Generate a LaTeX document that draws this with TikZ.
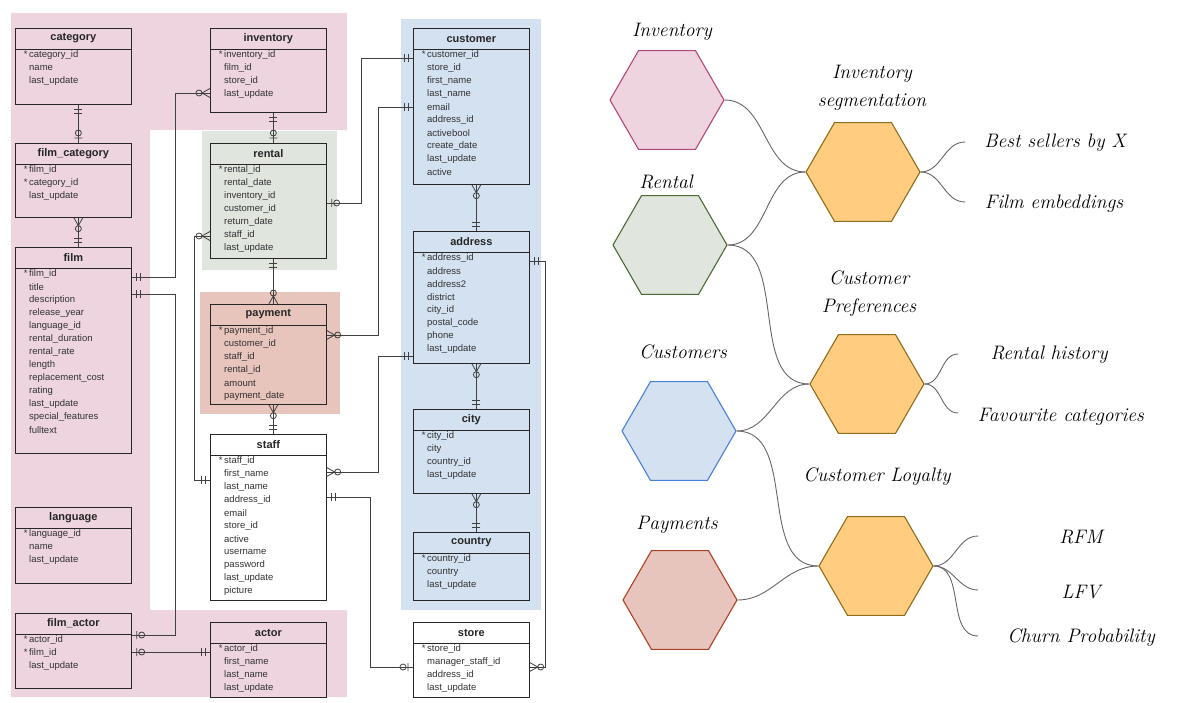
\documentclass[tikz,border=0pt]{standalone}
\usepackage{fontspec}
\setsansfont{Liberation Sans}
\usetikzlibrary{positioning,shapes.geometric}

\definecolor{pinkbg}{RGB}{237,212,223}
\definecolor{greenbg}{RGB}{224,229,222}
\definecolor{redbg}{RGB}{231,196,188}
\definecolor{bluebg}{RGB}{211,225,240}
\definecolor{invline}{RGB}{181,70,124}
\definecolor{rentline}{RGB}{75,107,53}
\definecolor{custline}{RGB}{74,128,214}
\definecolor{payline}{RGB}{176,64,35}
\definecolor{orfill}{RGB}{255,204,128}
\definecolor{orline}{RGB}{140,110,26}

\newcommand{\pkey}{\llap{*\,}}
\newcommand{\ertable}[7]{%
  \node[tbl,fill=#2,minimum height=#5pt,anchor=north west] (#1) at (#3,#4) {};
  \node[tbltitle] (#1-title) at ([yshift=-10.5pt]#1.north) {#6};
  \draw[tblline] ([yshift=-21pt]#1.north west) -- ([yshift=-21pt]#1.north east);
  \foreach \r [count=\i] in {#7}
    \node[tblrow] (#1-\i) at ([xshift=14pt,yshift={-(14+13*\i)*1pt}]#1.north west) {\r};
}

\begin{document}
\begin{tikzpicture}[x=1pt,y=-1pt,
    tbl/.style={draw=black!85,line width=0.7pt,minimum width=116pt,inner sep=0pt},
    tbltitle/.style={font=\sffamily\bfseries\fontsize{11}{13}\selectfont,text=black!85,inner sep=0pt},
    tblrow/.style={anchor=west,font=\sffamily\fontsize{9.5}{11}\selectfont,text=black!80,inner sep=0pt},
    tblline/.style={draw=black!85,line width=0.7pt},
    rel/.style={draw=black!75,line width=0.8pt},
    crowone/.pic={\draw[rel] (-5,-4) -- (-5,4) (-9,-4) -- (-9,4);},
    crowzone/.pic={\draw[rel] (-5,-4) -- (-5,4) (-10,0) circle (3pt);},
    crowmany/.pic={\draw[rel] (0,-4.5) -- (-8,0) -- (0,4.5) (-11,0) circle (3pt);},
    hex/.style={regular polygon,regular polygon sides=6,minimum size=114pt,line width=1.1pt,inner sep=0pt},
    topic/.style={font=\itshape\fontsize{19.5}{28}\selectfont,align=center,inner sep=0pt},
    branch/.style={draw=black!60,line width=0.9pt}]
    \useasboundingbox (0,0) rectangle (1197,703);

    \fill[pinkbg] (11,13) -- (347,13) -- (347,130) -- (150,130) -- (150,610)
        -- (347,610) -- (347,697) -- (11,697) -- cycle;
    \fill[greenbg] (202,131) rectangle (337,270);
    \fill[redbg] (200,292) rectangle (340,414);
    \fill[bluebg] (401,19) rectangle (541,610);

    \ertable{category}{pinkbg}{15}{28}{76}{category}{\pkey category\_id, name, last\_update}
    \ertable{inventory}{pinkbg}{210}{28}{84}{inventory}{\pkey inventory\_id, film\_id, store\_id, last\_update}
    \ertable{filmcat}{pinkbg}{15}{143}{74}{film\_category}{\pkey film\_id, \pkey category\_id, last\_update}
    \ertable{rental}{greenbg}{210}{143}{115}{rental}{\pkey rental\_id, rental\_date, inventory\_id, customer\_id, return\_date, staff\_id, last\_update}
    \ertable{film}{pinkbg}{15}{247}{206}{film}{\pkey film\_id, title, description, release\_year, language\_id, rental\_duration, rental\_rate, length, replacement\_cost, rating, last\_update, special\_features, fulltext}
    \ertable{language}{pinkbg}{15}{507}{76}{language}{\pkey language\_id, name, last\_update}
    \ertable{payment}{redbg}{210}{304}{100}{payment}{\pkey payment\_id, customer\_id, staff\_id, rental\_id, amount, payment\_date}
    \ertable{staff}{white}{210}{434}{166}{staff}{\pkey staff\_id, first\_name, last\_name, address\_id, email, store\_id, active, username, password, last\_update, picture}
    \ertable{customer}{bluebg}{413}{28}{156}{customer}{\pkey customer\_id, store\_id, first\_name, last\_name, email, address\_id, activebool, create\_date, last\_update, active}
    \ertable{address}{bluebg}{413}{231}{132}{address}{\pkey address\_id, address, address2, district, city\_id, postal\_code, phone, last\_update}
    \ertable{city}{bluebg}{413}{409}{84}{city}{\pkey city\_id, city, country\_id, last\_update}
    \ertable{country}{bluebg}{413}{532}{68}{country}{\pkey country\_id, country, last\_update}
    \ertable{filmactor}{pinkbg}{15}{613}{75}{film\_actor}{\pkey actor\_id, \pkey film\_id, last\_update}
    \ertable{actor}{pinkbg}{210}{622}{75}{actor}{\pkey actor\_id, first\_name, last\_name, last\_update}
    \ertable{store}{white}{413}{622}{75}{store}{\pkey store\_id, manager\_staff\_id, address\_id, last\_update}

    \draw[rel] ([xshift=5pt]category.south) pic[rotate=90]{crowone} -- ([xshift=5pt]filmcat.north) pic[rotate=-90]{crowzone};
    \draw[rel] ([xshift=5pt]filmcat.south) pic[rotate=90]{crowmany} -- ([xshift=5pt]film.north) pic[rotate=-90]{crowone};
    \draw[rel] ([yshift=-30pt]film.north east) pic[rotate=180]{crowone} -- ++(44,0) |- ([yshift=-65pt]inventory.north west) pic{crowmany};
    \draw[rel] ([yshift=-47pt]film.north east) pic[rotate=180]{crowone} -- ++(44,0) |- ([yshift=-22pt]filmactor.north east) pic[rotate=180]{crowzone};
    \draw[rel] ([yshift=-39pt]filmactor.north east) pic[rotate=180]{crowzone} -- ([yshift=-30pt]actor.north west) pic{crowone};
    \draw[rel] ([xshift=5pt]inventory.south) pic[rotate=90]{crowone} -- ([xshift=5pt]rental.north) pic[rotate=-90]{crowzone};
    \draw[rel] ([xshift=5pt]rental.south) pic[rotate=90]{crowone} -- ([xshift=5pt]payment.north) pic[rotate=-90]{crowmany};
    \draw[rel] ([yshift=-60pt]rental.north east) pic[rotate=180]{crowzone} -- ++(35,0) |- ([yshift=-30pt]customer.north west) pic{crowone};
    \draw[rel] ([yshift=-93pt]rental.north west) pic{crowmany} -- ++(-16,0) |- ([yshift=-46pt]staff.north west) pic{crowone};
    \draw[rel] ([yshift=-31pt]payment.north east) pic[rotate=180]{crowmany} -- ++(52,0) |- ([yshift=-79pt]customer.north west) pic{crowone};
    \draw[rel] ([xshift=5pt]payment.south) pic[rotate=90]{crowmany} -- ([xshift=5pt]staff.north) pic[rotate=-90]{crowone};
    \draw[rel] ([xshift=5pt]customer.south) pic[rotate=90]{crowmany} -- ([xshift=5pt]address.north) pic[rotate=-90]{crowone};
    \draw[rel] ([yshift=-125pt]address.north west) pic{crowone} -- ++(-35,0) |- ([yshift=-38pt]staff.north east) pic[rotate=180]{crowmany};
    \draw[rel] ([xshift=5pt]address.south) pic[rotate=90]{crowmany} -- ([xshift=5pt]city.north) pic[rotate=-90]{crowone};
    \draw[rel] ([xshift=5pt]city.south) pic[rotate=90]{crowmany} -- ([xshift=5pt]country.north) pic[rotate=-90]{crowone};
    \draw[rel] ([yshift=-63pt]staff.north east) pic[rotate=180]{crowone} -- ++(44,0) |- ([yshift=-45pt]store.north west) pic{crowzone};
    \draw[rel] ([yshift=-30pt]address.north east) pic[rotate=180]{crowone} -- ++(16,0) |- ([yshift=-45pt]store.north east) pic[rotate=180]{crowmany};

    \node[hex,fill=pinkbg,draw=invline] (invhex) at (667,100) {};
    \node[hex,fill=greenbg,draw=rentline] (renthex) at (670,245) {};
    \node[hex,fill=bluebg,draw=custline] (custhex) at (679,431) {};
    \node[hex,fill=redbg,draw=payline] (payhex) at (680,600) {};
    \node[hex,fill=orfill,draw=orline] (seghex) at (863,172) {};
    \node[hex,fill=orfill,draw=orline] (prefhex) at (867,384) {};
    \node[hex,fill=orfill,draw=orline] (loyhex) at (876,566) {};

    \node[topic] (invlbl) at (672,32) {Inventory};
    \node[topic] (rentlbl) at (666,182) {Rental};
    \node[topic] (custlbl) at (683,352) {Customers};
    \node[topic] (paylbl) at (677,525) {Payments};
    \node[topic] (seglbl) at (872,88) {Inventory\\segmentation};
    \node[topic] (preflbl) at (869,294) {Customer\\Preferences};
    \node[topic] (loylbl) at (877,477) {Customer Loyalty};
    \node[topic] (best) at (1055,143) {Best sellers by X};
    \node[topic] (embed) at (1054,204) {Film embeddings};
    \node[topic] (hist) at (1049,355) {Rental history};
    \node[topic] (fav) at (1061,417) {Favourite categories};
    \node[topic] (rfm) at (1081,537) {RFM};
    \node[topic] (lfv) at (1081,592) {LFV};
    \node[topic] (churn) at (1081,638) {Churn Probability};

    \coordinate (bestend) at (965,142);
    \coordinate (embedend) at (965,202);
    \coordinate (histend) at (958,354);
    \coordinate (favend) at (958,413);
    \coordinate (rfmend) at (978,536);
    \coordinate (lfvend) at (978,590);
    \coordinate (churnend) at (978,636);

    \path[branch]
    (invhex.east) edge [out=0,in=180] (seghex.west)
    (renthex.east) edge [out=0,in=180] (seghex.west)
                   edge [out=0,in=180] (prefhex.west)
    (custhex.east) edge [out=0,in=180] (prefhex.west)
                   edge [out=0,in=180] (loyhex.west)
    (payhex.east) edge [out=0,in=180] (loyhex.west)
    (seghex.east) edge [out=0,in=180] (bestend)
                  edge [out=0,in=180] (embedend)
    (prefhex.east) edge [out=0,in=180] (histend)
                   edge [out=0,in=180] (favend)
    (loyhex.east) edge [out=0,in=180] (rfmend)
                  edge [out=0,in=180] (lfvend)
                  edge [out=0,in=180] (churnend);
\end{tikzpicture}
\end{document}
